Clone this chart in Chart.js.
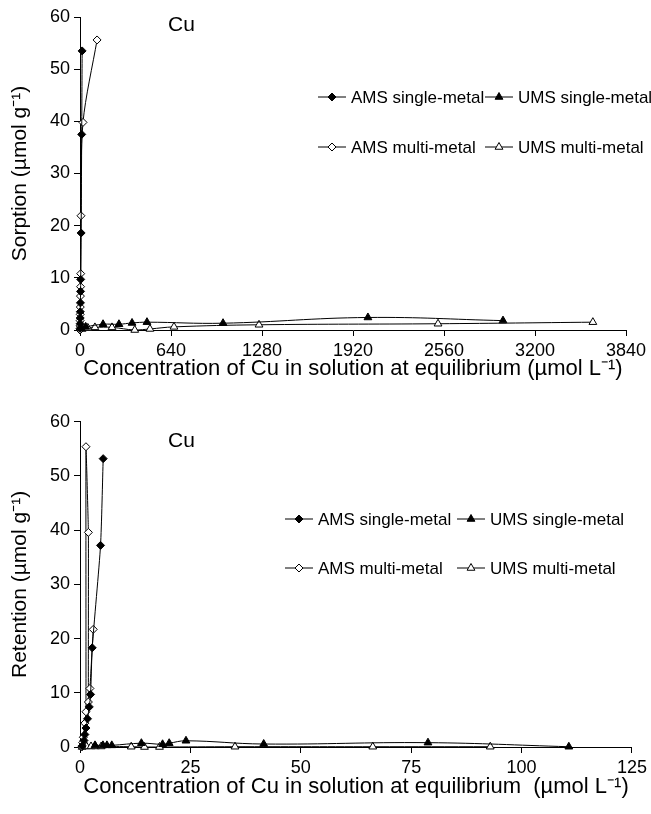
<!DOCTYPE html>
<html>
<head>
<meta charset="utf-8">
<script src="https://cdn.jsdelivr.net/npm/chart.js@4"></script>
<style>
  body { margin: 0; background: #fff; }
  .box { position: relative; width: 651px; height: 407px; }
</style>
</head>
<body>
<div class="box"><canvas id="chartTop"></canvas></div>
<div class="box"><canvas id="chartBottom"></canvas></div>
<script>
// top panel: sorption
var topAmsSingleX = [0.5, 1, 1.5, 2, 3, 4, 5, 8, 12, 15];
var topAmsSingleY = [0.3, 1.2, 2.3, 3.5, 5.2, 7.4, 9.7, 18.6, 37.5, 53.5];
var topAmsMultiX = [0.3, 0.5, 1, 1.5, 2, 3, 4, 5, 7, 21, 120];
var topAmsMultiY = [0, 0.8, 1.8, 3, 4.4, 6.5, 8.3, 10.8, 21.9, 39.8, 55.6];
var topUmsSingleX = [10, 40, 162, 274, 366, 471, 1006, 2025, 2975];
var topUmsSingleY = [0.3, 0.6, 1.1, 1.1, 1.35, 1.5, 1.3, 2.4, 1.8];
var topUmsMultiX = [15, 55, 105, 225, 385, 492, 661, 1259, 2518, 3607];
var topUmsMultiY = [0.2, 0.4, 0.5, 0.5, 0.0, 0.2, 0.6, 1.0, 1.2, 1.5];

// bottom panel: retention
var botAmsSingleX = [0.5, 0.9, 1.1, 1.35, 1.7, 2.1, 2.4, 2.77, 4.65, 5.25];
var botAmsSingleY = [0.2, 1.2, 2.3, 3.5, 5.2, 7.4, 9.7, 18.3, 37.2, 53.2];
var botAmsMultiX = [0.4, 0.6, 0.75, 1.1, 1.35, 1.35, 1.9, 1.9, 2.25, 3.0];
var botAmsMultiY = [0, 0.8, 1.8, 4.4, 6.5, 55.4, 39.6, 8.3, 10.8, 21.7];
var botUmsSingleX = [3.4, 5.2, 6.1, 7.2, 13.9, 18.7, 20.2, 24.0, 41.6, 78.8, 110.7];
var botUmsSingleY = [0.3, 0.3, 0.3, 0.3, 0.7, 0.5, 0.7, 1.15, 0.55, 0.8, 0.05];
var botUmsMultiX = [0.5, 1.5, 2.5, 3.5, 4.8, 11.6, 14.6, 18.0, 35.1, 66.3, 92.9];
var botUmsMultiY = [0, 0.1, 0.1, 0.1, 0.1, 0.05, 0, 0, 0.05, 0.05, 0.05];

var seriesNames = ['AMS single-metal', 'UMS single-metal', 'AMS multi-metal', 'UMS multi-metal'];
var yTicks = [0, 10, 20, 30, 40, 50, 60];
var topXTicks = [0, 640, 1280, 1920, 2560, 3200, 3840];
var botXTicks = [0, 25, 50, 75, 100, 125];

var FONT = '"Liberation Sans", Arial, sans-serif';

function pts(xs, ys) {
  return xs.map(function (x, i) { return { x: x, y: ys[i] }; });
}

function makeSet(label, data, style, filled, tension) {
  return {
    label: label,
    data: data,
    showLine: true,
    borderColor: '#000',
    borderWidth: 1,
    backgroundColor: filled ? '#000' : '#fff',
    pointStyle: style,
    pointRadius: style === 'triangle' ? 4.5 : 4,
    pointBorderWidth: 1,
    pointBorderColor: '#000',
    pointBackgroundColor: filled ? '#000' : '#fff',
    tension: tension,
    clip: false
  };
}

// draws the "Cu" label and the 2x2 legend inside the plot
var overlay = {
  id: 'overlay',
  afterDraw: function (chart, args, opts) {
    var ctx = chart.ctx;
    ctx.save();
    ctx.fillStyle = '#000';
    ctx.textBaseline = 'middle';
    ctx.font = '21px ' + FONT;
    ctx.fillText('Cu', opts.cu[0], opts.cu[1]);
    ctx.font = '17px ' + FONT;
    opts.legend.forEach(function (p) {
      var ds = chart.data.datasets[p.ds];
      ctx.strokeStyle = '#000';
      ctx.lineWidth = 1;
      ctx.beginPath();
      ctx.moveTo(p.x, p.y);
      ctx.lineTo(p.x + 28, p.y);
      ctx.stroke();
      ctx.fillStyle = ds.pointBackgroundColor;
      Chart.helpers.drawPoint(ctx, {
        pointStyle: ds.pointStyle, radius: ds.pointRadius, rotation: 0, borderWidth: 1
      }, p.x + 14, p.y);
      ctx.fillStyle = '#000';
      ctx.fillText(ds.label, p.x + 33, p.y + 1);
    });
    ctx.restore();
  }
};

function axis(min, max, ticks, title, isX, xHeight, titlePad) {
  return {
    type: 'linear',
    min: min,
    max: max,
    afterBuildTicks: function (s) { s.ticks = ticks.map(function (v) { return { value: v }; }); },
    afterFit: isX ? function (s) { s.height = xHeight; } : function (s) { s.width = 80; },
    grid: { drawOnChartArea: false, drawTicks: true, tickLength: 6, tickColor: '#000', tickWidth: 1 },
    border: { display: true, color: '#000', width: 1 },
    ticks: {
      color: '#000', font: { family: FONT, size: 18 }, padding: 4, maxRotation: 0, autoSkip: false,
      callback: function (v) { return String(v); }
    },
    title: {
      display: true, text: title, color: '#000',
      font: { family: FONT, size: isX ? 22 : 21 },
      padding: isX ? { top: 0, bottom: titlePad } : { top: titlePad, bottom: 0 }
    }
  };
}

function build(id, sets, xMin, xMax, xTicks, xTitle, yTitle, pad, xHeight, xTitlePad, overlayOpts) {
  return new Chart(document.getElementById(id), {
    type: 'scatter',
    data: { datasets: sets },
    options: {
      responsive: true,
      maintainAspectRatio: false,
      animation: false,
      layout: { padding: pad },
      plugins: {
        legend: { display: false },
        tooltip: { enabled: false },
        overlay: overlayOpts
      },
      scales: {
        x: axis(xMin, xMax, xTicks, xTitle, true, xHeight, xTitlePad),
        y: axis(0, 60, yTicks, yTitle, false, 0, 8)
      }
    },
    plugins: [overlay]
  });
}

var topSets = [
  makeSet(seriesNames[0], pts(topAmsSingleX, topAmsSingleY), 'rectRot', true, 0.2),
  makeSet(seriesNames[1], pts(topUmsSingleX, topUmsSingleY), 'triangle', true, 0.4),
  makeSet(seriesNames[2], pts(topAmsMultiX, topAmsMultiY), 'rectRot', false, 0.3),
  makeSet(seriesNames[3], pts(topUmsMultiX, topUmsMultiY), 'triangle', false, 0.4)
];

var botSets = [
  makeSet(seriesNames[0], pts(botAmsSingleX, botAmsSingleY), 'rectRot', true, 0.2),
  makeSet(seriesNames[1], pts(botUmsSingleX, botUmsSingleY), 'triangle', true, 0.4),
  makeSet(seriesNames[2], pts(botAmsMultiX, botAmsMultiY), 'rectRot', false, 0.1),
  makeSet(seriesNames[3], pts(botUmsMultiX, botUmsMultiY), 'triangle', false, 0.4)
];

build('chartTop', topSets, 0, 3840, topXTicks,
  'Concentration of Cu in solution at equilibrium (\u00b5mol L\u207b\u00b9)',
  'Sorption (\u00b5mol g\u207b\u00b9)',
  { left: 0, top: 17, right: 25, bottom: 0 }, 77, 25,
  { cu: [168, 25], legend: [
    { ds: 0, x: 318, y: 97 }, { ds: 1, x: 485, y: 97 },
    { ds: 2, x: 318, y: 147 }, { ds: 3, x: 485, y: 147 }
  ] });

build('chartBottom', botSets, 0, 125, botXTicks,
  'Concentration of Cu in solution at equilibrium  (\u00b5mol L\u207b\u00b9)',
  'Retention (\u00b5mol g\u207b\u00b9)',
  { left: 0, top: 12, right: 14, bottom: 0 }, 67, 14,
  { cu: [168, 34], legend: [
    { ds: 0, x: 285, y: 112 }, { ds: 1, x: 457, y: 112 },
    { ds: 2, x: 285, y: 161 }, { ds: 3, x: 457, y: 161 }
  ] });
</script>
</body>
</html>
